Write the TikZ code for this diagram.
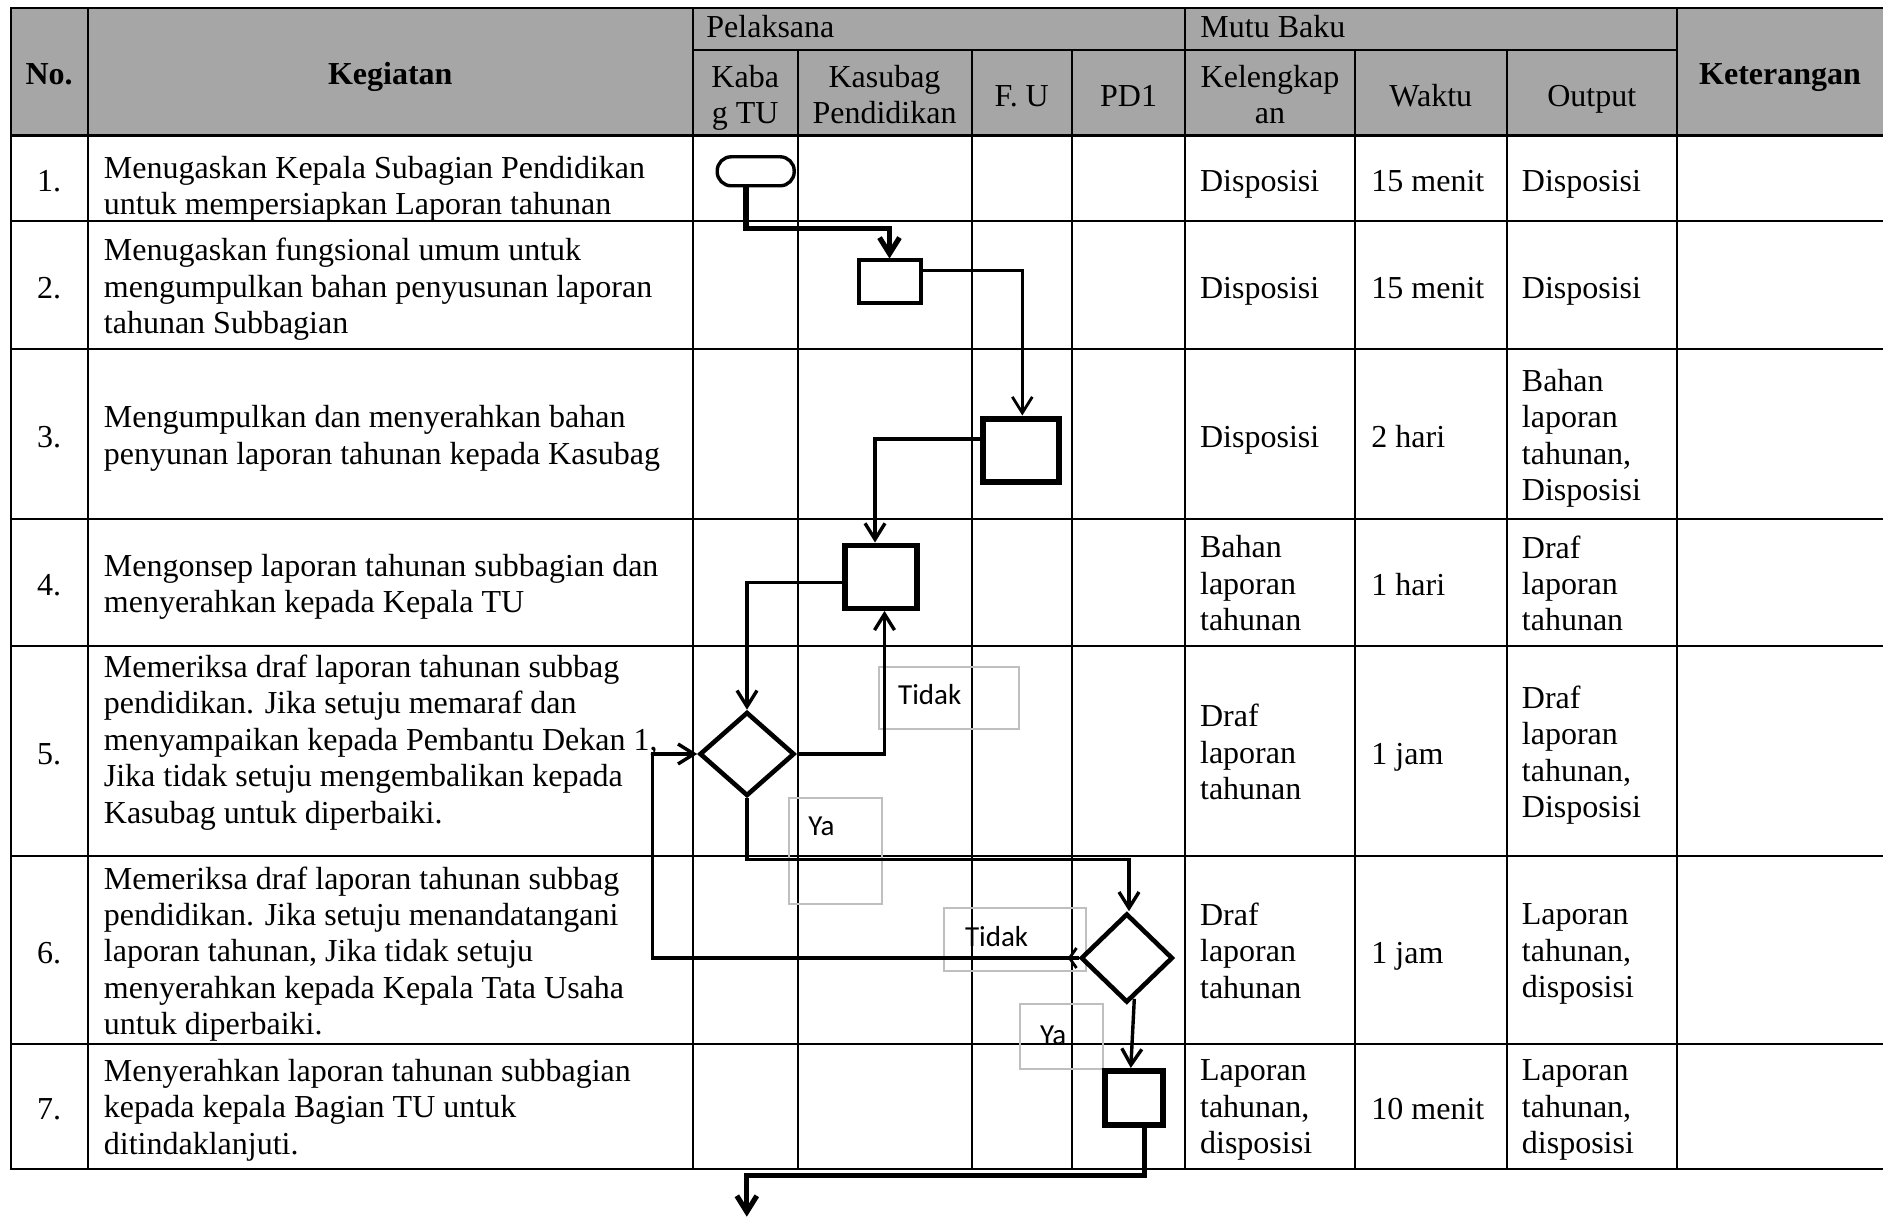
\documentclass[tikz,border=0pt]{standalone}
\usepackage{fontspec}
\setmainfont{Liberation Serif}
\newfontfamily\lblfont{Carlito}
\usetikzlibrary{arrows.meta,shapes.geometric,calc}
\definecolor{hdrgray}{RGB}{166,166,166}
\definecolor{lblgray}{RGB}{191,191,191}
\begin{document}
\begin{tikzpicture}[x=0.5pt,y=-0.5pt,
  grid/.style={line width=1pt, line cap=rect},
  strutted/.style={execute at begin node=\strut, execute at end node=\strut},
  cell/.style={strutted, inner sep=0pt, align=left, anchor=west, font=\fontsize{16}{18.2}\selectfont},
  ccell/.style={strutted, inner sep=0pt, align=center, font=\fontsize{16}{18.2}\selectfont},
  hcell/.style={strutted, inner sep=0pt, align=center, font=\fontsize{16}{18.2}\selectfont\bfseries},
  proc/.style={draw, fill=white, rectangle, inner sep=0pt},
  decis/.style={draw, fill=white, diamond, inner sep=0pt, line width=2.3pt},
  lblbox/.style={draw=lblgray, line width=1pt, rectangle, inner sep=0pt},
  lbltext/.style={inner sep=0pt, anchor=west, font=\lblfont\fontsize{14.5}{16}\selectfont},
  conn/.style={line width=1.7pt, -{Straight Barb[length=8pt,width=10pt]}},
  thickconn/.style={line width=2.6pt, -{Straight Barb[length=8pt,width=10pt]}}
]
\useasboundingbox (0,0) rectangle (1883,1219);

% ---------- table ----------
\fill[hdrgray] (10.8,8.4) rectangle (1883,135.7);
\draw[grid] (10.8,8.4) -- (1883,8.4);
\draw[grid] (693,50.4) -- (1676.5,50.4);
\foreach \y in {221,349.5,518.8,646,856,1043.6,1168.5}
  \draw[grid] (10.8,\y) -- (1883,\y);
\draw[line width=1.5pt] (10.8,135.7) -- (1883,135.7);
\foreach \x in {10.8,87.7,693,1185.3,1676.5}
  \draw[grid] (\x,8.4) -- (\x,1168.5);
\foreach \x in {797.5,971.5,1072,1354.6,1507}
  \draw[grid] (\x,50.4) -- (\x,1168.5);

% header texts
\node[hcell] (hno) at (49.2,77.7) {No.};
\node[hcell] (hkeg) at (390.3,77.7) {Kegiatan};
\node[cell] (hpel) at (706,30.3) {Pelaksana};
\node[cell] (hmutu) at (1200,30.3) {Mutu Baku};
\node[ccell] (hkaba) at (745.2,99.8) {Kaba\\g TU};
\node[ccell] (hkasub) at (884.5,99.8) {Kasubag\\Pendidikan};
\node[ccell] (hfu) at (1021.7,99.2) {F. U};
\node[ccell] (hpd) at (1128.6,99.2) {PD1};
\node[ccell] (hkel) at (1270,99.8) {Kelengkap\\an};
\node[ccell] (hwak) at (1430.8,98.8) {Waktu};
\node[ccell] (hout) at (1591.7,98.8) {Output};
\node[hcell] (hket) at (1780,77.7) {Keterangan};

\begin{scope}[yshift=-1.5pt]
% row 1
\node[ccell] (n1) at (49.2,181.6) {1.};
\node[cell] (k1) at (103.5,187.7) {Menugaskan Kepala Subagian Pendidikan\\untuk mempersiapkan Laporan tahunan};
\node[cell] (kl1) at (1199.7,181.6) {Disposisi};
\node[cell] (w1) at (1371,181.6) {15 menit};
\node[cell] (o1) at (1521.5,181.6) {Disposisi};
% row 2
\node[ccell] (n2) at (49.2,288.4) {2.};
\node[cell] (k2) at (103.5,288.4) {Menugaskan fungsional umum untuk\\mengumpulkan bahan penyusunan laporan\\tahunan Subbagian};
\node[cell] (kl2) at (1199.7,288.4) {Disposisi};
\node[cell] (w2) at (1371,288.4) {15 menit};
\node[cell] (o2) at (1521.5,288.4) {Disposisi};
% row 3
\node[ccell] (n3) at (49.2,437.4) {3.};
\node[cell] (k3) at (103.5,437.4) {Mengumpulkan dan menyerahkan bahan\\penyunan laporan tahunan kepada Kasubag};
\node[cell] (kl3) at (1199.7,437.4) {Disposisi};
\node[cell] (w3) at (1371,437.4) {2 hari};
\node[cell] (o3) at (1521.5,437.4) {Bahan\\laporan\\tahunan,\\Disposisi};
% row 4
\node[ccell] (n4) at (49.2,585.6) {4.};
\node[cell] (k4) at (103.5,585.6) {Mengonsep laporan tahunan subbagian dan\\menyerahkan kepada Kepala TU};
\node[cell] (kl4) at (1199.7,585.6) {Bahan\\laporan\\tahunan};
\node[cell] (w4) at (1371,585.6) {1 hari};
\node[cell] (o4) at (1521.5,585.6) {Draf\\laporan\\tahunan};
% row 5
\node[ccell] (n5) at (49.2,754.2) {5.};
\node[cell] (k5) at (103.5,741.5) {Memeriksa draf laporan tahunan subbag\\pendidikan. Jika setuju memaraf dan\\menyampaikan kepada Pembantu Dekan 1,\\Jika tidak setuju mengembalikan kepada\\Kasubag untuk diperbaiki.};
\node[cell] (kl5) at (1199.7,754.2) {Draf\\laporan\\tahunan};
\node[cell] (w5) at (1371,754.2) {1 jam};
\node[cell] (o5) at (1521.5,754.2) {Draf\\laporan\\tahunan,\\Disposisi};
% row 6
\node[ccell] (n6) at (49.2,953) {6.};
\node[cell] (k6) at (103.5,953) {Memeriksa draf laporan tahunan subbag\\pendidikan. Jika setuju menandatangani\\laporan tahunan, Jika tidak setuju\\menyerahkan kepada Kepala Tata Usaha\\untuk diperbaiki.};
\node[cell] (kl6) at (1199.7,953) {Draf\\laporan\\tahunan};
\node[cell] (w6) at (1371,953) {1 jam};
\node[cell] (o6) at (1521.5,953) {Laporan\\tahunan,\\disposisi};
% row 7
\node[ccell] (n7) at (49.2,1109.2) {7.};
\node[cell] (k7) at (103.5,1109.2) {Menyerahkan laporan tahunan subbagian\\kepada kepala Bagian TU untuk\\ditindaklanjuti.};
\node[cell] (kl7) at (1199.7,1109.2) {Laporan\\tahunan,\\disposisi};
\node[cell] (w7) at (1371,1109.2) {10 menit};
\node[cell] (o7) at (1521.5,1109.2) {Laporan\\tahunan,\\disposisi};
\end{scope}

% ---------- label boxes ----------
\node[lblbox, minimum width=70.2pt, minimum height=31.3pt] (lb1) at (948.7,698) {};
\node[lbltext] (lt1) at (897.8,695) {Tidak};
\node[lblbox, minimum width=46.3pt, minimum height=53.3pt] (lb2) at (835.3,850.8) {};
\node[lbltext] (lt2) at (808,826) {Ya};
\node[lblbox, minimum width=70.8pt, minimum height=31.5pt] (lb3) at (1015.2,939.2) {};
\node[lbltext] (lt3) at (964.6,936.7) {Tidak};
\node[lblbox, minimum width=41.4pt, minimum height=32.5pt] (lb4) at (1061.4,1036.5) {};
\node[lbltext] (lt4) at (1039.6,1035) {Ya};

% ---------- flow shapes ----------
\node[draw, fill=white, rectangle, rounded corners=7pt, line width=1.7pt,
      minimum width=38.5pt, minimum height=14.5pt, inner sep=0pt] (term) at (755.7,171.3) {};
\node[proc, line width=2pt, minimum width=31pt, minimum height=21.5pt] (p2) at (889.5,282) {};
\node[proc, line width=3pt, minimum width=38pt, minimum height=31.5pt] (p3) at (1020.5,450) {};
\node[proc, line width=2.7pt, minimum width=36pt, minimum height=31.5pt] (p4) at (881,576.7) {};
\node[decis, minimum width=47.5pt, minimum height=42pt] (d1) at (747,754) {};
\node[decis, minimum width=46pt, minimum height=44.5pt] (d2) at (1126.8,958) {};
\node[proc, line width=3pt, minimum width=29pt, minimum height=27pt] (p5) at (1134,1098) {};
\coordinate (exitc) at (746.8,1216.7);

% ---------- connectors ----------
\draw[thickconn] ([xshift=-4.9pt]term.south) -- ++(0,41) -| (p2.north);
\draw[conn, line width=1.4pt] ([yshift=5.6pt]p2.east) -| ([xshift=0.9pt]p3.north);
\draw[conn] ([yshift=5.5pt]p3.west) -| ([xshift=-3pt]p4.north);
\draw[conn] ([yshift=-3pt]p4.west) -| (d1.north);
\draw[conn] (d1.east) -| ([xshift=1.75pt]p4.south);
\draw[conn] (d1.south) -- ++(0,61) -| ([xshift=1.1pt]d2.north);
\draw[conn] (d2.west) -- ++(-426,0) |- (d1.west);
\draw[line width=1.4pt] ([xshift=-1pt,yshift=5pt]d2.west) -- ([xshift=-4.5pt]d2.west) -- ([xshift=-1pt,yshift=-5pt]d2.west);
\draw[conn] ([xshift=3.75pt,yshift=3pt]d2.south) -- ([xshift=-1.6pt]p5.north);
\draw[thickconn] ([xshift=5.15pt]p5.south) -- ++(0,47.7) -| (exitc);
\end{tikzpicture}
\end{document}
